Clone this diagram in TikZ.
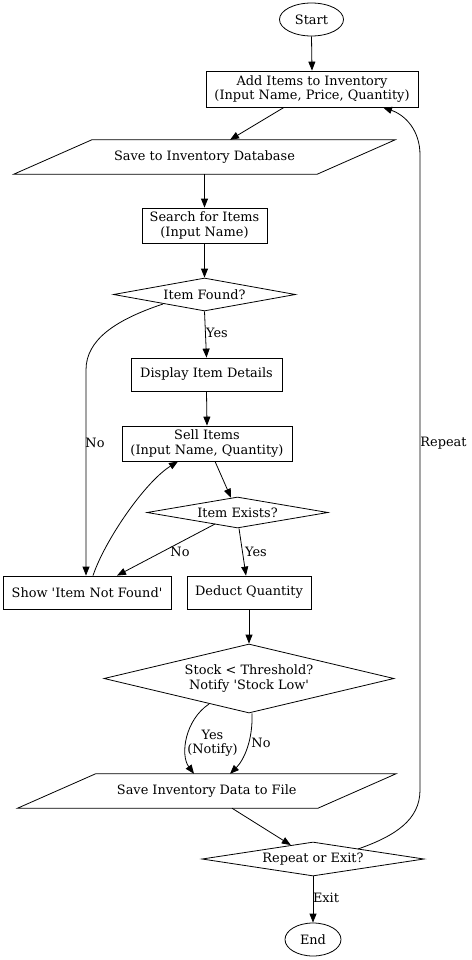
\documentclass[tikz,border=0pt]{standalone}
\usepackage{fontspec}
\setmainfont{DejaVu Serif}
\usetikzlibrary{shapes.geometric,arrows.meta,calc}
\begin{document}
\begin{tikzpicture}[x=1pt,y=-1pt,
  every node/.style={font=\fontsize{12.9}{14.2}\selectfont, inner sep=0pt},
  box/.style={draw, rectangle, align=center, line width=0.8pt},
  term/.style={draw, ellipse, line width=0.8pt},
  dec/.style={draw, diamond, align=center, line width=0.8pt, aspect=6.5},
  iobox/.style={rectangle, align=center},
  para/.style={draw, line width=0.8pt},
  flow/.style={draw, line width=0.8pt, -{Triangle[length=9pt,width=7pt]}},
  lab/.style={align=center}
]
\useasboundingbox (0,0) rectangle (471,960);

\node[term, minimum width=64pt, minimum height=33pt] (start) at (311.5,19.5) {Start};
\node[box, minimum width=212pt, minimum height=36pt] (add) at (312,89) {Add Items to Inventory\\(Input Name, Price, Quantity)};
\node[iobox, minimum width=303pt, minimum height=34pt] (save) at (204.5,157) {Save to Inventory Database};
\node[box, minimum width=125pt, minimum height=35pt] (search) at (204.5,225.5) {Search for Items\\(Input Name)};
\node[dec, minimum width=182pt, minimum height=33pt] (found) at (204.5,294.5) {Item Found?};
\node[box, minimum width=151pt, minimum height=33pt] (display) at (206.5,374.5) {Display Item Details};
\node[box, minimum width=170pt, minimum height=35pt] (sell) at (207,443.5) {Sell Items\\(Input Name, Quantity)};
\node[dec, minimum width=181pt, minimum height=31pt] (exists) at (237.5,512.5) {Item Exists?};
\node[box, minimum width=168pt, minimum height=33pt] (show) at (87,592.5) {Show \textquotesingle Item Not Found\textquotesingle};
\node[box, minimum width=124pt, minimum height=33pt] (deduct) at (249,592.5) {Deduct Quantity};
\node[dec, aspect=4.2, minimum width=290pt, minimum height=69pt] (stock) at (249,678.5) {Stock < Threshold?\\Notify \textquotesingle Stock Low\textquotesingle};
\node[iobox, minimum width=300pt, minimum height=34pt] (savefile) at (206.75,791) {Save Inventory Data to File};
\node[dec, minimum width=222pt, minimum height=34pt] (repeat) at (313,859) {Repeat or Exit?};
\node[term, minimum width=56pt, minimum height=33pt] (end) at (313,939.5) {End};

% parallelogram outlines
\draw[para] ($(save.north west)+(39,0)$) -- ($(save.north east)+(39,0)$) -- ($(save.south east)+(-39,0)$) -- ($(save.south west)+(-39,0)$) -- cycle;
\draw[para] ($(savefile.north west)+(39,0)$) -- ($(savefile.north east)+(39,0)$) -- ($(savefile.south east)+(-39,0)$) -- ($(savefile.south west)+(-39,0)$) -- cycle;

% edges
\draw[flow] (start.south) -- (add.north);
\draw[flow] ($(add.south)+(-28,0)$) -- ($(save.north)+(25.5,0)$);
\draw[flow] (save.south) -- (search.north);
\draw[flow] (search.south) -- (found.north);
\draw[flow] (found.south) -- (display.north);
\draw[flow] (display.south) -- (sell.north);
\draw[flow] ($(found.center)+(-41.5,9.5)$) .. controls (115,320) and (86,340) .. (86,370) -- ($(show.north)+(-1,0)$);
\draw[flow] ($(sell.south)+(8,0)$) -- (exists);
\draw[flow] ($(exists.center)+(-22.5,11.5)$) -- ($(show.north)+(30,0)$);
\draw[flow] ($(exists.south)+(1.5,0)$) -- ($(deduct.north)+(-3,0)$);
\draw[flow] ($(show.north)+(6,0)$) .. controls (105,540) and (145,482) .. ($(sell.south)+(-29,0)$);
\draw[flow] (deduct.south) -- (stock.north);
\draw[flow] ($(stock.center)+(-40,25.5)$) .. controls (185,720) and (180,755) .. ($(savefile.north)+(-12.75,0)$);
\draw[flow] ($(stock.south)+(3,0)$) .. controls (253,740) and (244,760) .. ($(savefile.north)+(23.25,0)$);
\draw[flow] ($(savefile.south)+(25.25,0)$) -- (repeat);
\draw[flow] (repeat.south) -- (end.north);
\draw[flow] ($(repeat.center)+(45,-10)$) .. controls (395,836) and (420,820) .. (420,790) -- (420,155) .. controls (420,130) and (405,115) .. ($(add.south)+(71,0)$);

% labels
\node[lab, anchor=west] (lyes1) at (206,333) {Yes};
\node[lab] (lno1) at (95,443) {No};
\node[lab] (lno2) at (180,552) {No};
\node[lab] (lyes2) at (256,552) {Yes};
\node[lab] (lyes3) at (212.5,743.5) {Yes\\(Notify)};
\node[lab] (lno3) at (261,743) {No};
\node[lab] (lexit) at (326,898) {Exit};
\node[lab] (lrep) at (443.5,443) {Repeat};
\end{tikzpicture}
\end{document}
